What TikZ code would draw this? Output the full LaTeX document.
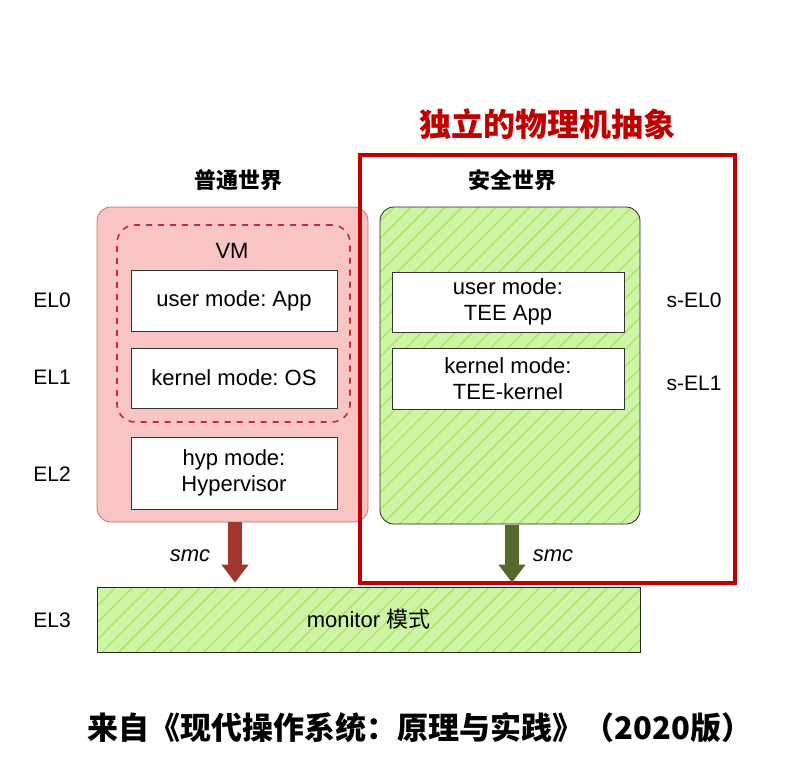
\documentclass[tikz,border=0pt]{standalone}
\usepackage{fontspec}
\setmainfont{Liberation Sans}
\newfontfamily\cjk{Noto Sans CJK SC}
\usepackage{xcolor}
\usepackage{tikz}
\usetikzlibrary{shapes,arrows.meta,positioning,calc,patterns.meta}
\frenchspacing

\definecolor{pinkfill}{RGB}{248,196,196}
\definecolor{pinkline}{RGB}{205,110,110}
\definecolor{vmred}{RGB}{200,40,55}
\definecolor{framered}{RGB}{192,0,0}
\definecolor{greenfill}{RGB}{205,245,165}
\definecolor{hatchgreen}{RGB}{170,228,100}
\definecolor{arrowred}{RGB}{160,55,45}
\definecolor{arrowgreen}{RGB}{85,105,45}

\tikzset{
  modebox/.style={rectangle, draw=black!80, fill=white, minimum width=103pt, align=center, font=\fontsize{11}{13}\selectfont},
  hatched/.style={draw=black!85, preaction={fill=greenfill}, pattern={Lines[angle=45,distance=6pt,line width=0.6pt]}, pattern color=hatchgreen},
  ellabel/.style={font=\fontsize{10.5}{12}\selectfont},
  smcarrow/.style={line width=7pt, -{Triangle[width=13pt,length=9pt]}}
}

\begin{document}
\begin{tikzpicture}[x=0.5pt,y=-0.5pt]
\useasboundingbox (0,0) rectangle (806,771);
% normal world
\node[rectangle, draw=pinkline, fill=pinkfill, rounded corners=7pt, minimum width=135.5pt, minimum height=157.5pt] (normal) at (232.5,364.5) {};
\node[rectangle, draw=vmred, dashed, thick, rounded corners=9pt, minimum width=116.5pt, minimum height=98.5pt] (vm) at (233.5,323.5) {};
\node[font=\fontsize{11}{13}\selectfont] (vmlabel) at (232,251) {VM};
\node[modebox, minimum height=30.5pt] (app) at (234,300.5) {user mode: App};
\node[modebox, minimum height=30pt] (os) at (234,378) {kernel mode: OS};
\node[modebox, minimum height=36pt] (hyp) at (234,473) {hyp mode:\\Hypervisor};
\node[font=\cjk\bfseries\fontsize{11}{13}\selectfont] (normaltitle) at (238,180) {普通世界};
% secure world
\node[rectangle, hatched, rounded corners=7pt, minimum width=130pt, minimum height=158.5pt] (secure) at (510,365.5) {};
\node[modebox, minimum width=116pt, minimum height=29pt] (teeapp) at (508,302) {user mode:\\TEE App};
\node[modebox, minimum width=116pt, minimum height=30.5pt] (teekernel) at (508,378.5) {kernel mode:\\TEE-kernel};
\node[font=\cjk\bfseries\fontsize{11}{13}\selectfont] (securetitle) at (512,180) {安全世界};
\node[rectangle, draw=framered, line width=2pt, minimum width=187.5pt, minimum height=214pt] (frame) at (547.5,369) {};
\node[font=\cjk\bfseries\fontsize{16}{18}\selectfont, text=framered, above=3pt of frame.north] (frametitle) {独立的物理机抽象};
% monitor
\node[rectangle, hatched, minimum width=271.5pt, minimum height=32.5pt, font=\fontsize{11}{13}\selectfont] (monitor) at (368.5,619.5) {monitor {\cjk 模式}};
% smc arrows
\draw[smcarrow, arrowred] ($(normal.south)+(2.5,0)$) -- ($(normal.south |- monitor.north)+(2.5,-4)$);
\draw[smcarrow, arrowgreen] ($(secure.south)+(2,0)$) -- ($(secure.south |- monitor.north)+(2,-4)$);
\node[font=\itshape\fontsize{11}{13}\selectfont] (smcl) at (190,556) {smc};
\node[font=\itshape\fontsize{11}{13}\selectfont] (smcr) at (553,556) {smc};
% exception levels
\node[ellabel] (el0) at (52,300) {EL0};
\node[ellabel] (el1) at (52,377) {EL1};
\node[ellabel] (el2) at (52,474) {EL2};
\node[ellabel] (el3) at (52,620) {EL3};
\node[ellabel] (sel0) at (694,300) {s-EL0};
\node[ellabel] (sel1) at (694,383) {s-EL1};
% source
\node[font=\cjk\bfseries\fontsize{15.5}{18}\selectfont] (source) at (420,728) {来自《现代操作系统：原理与实践》（2020版）};
\end{tikzpicture}
\end{document}
